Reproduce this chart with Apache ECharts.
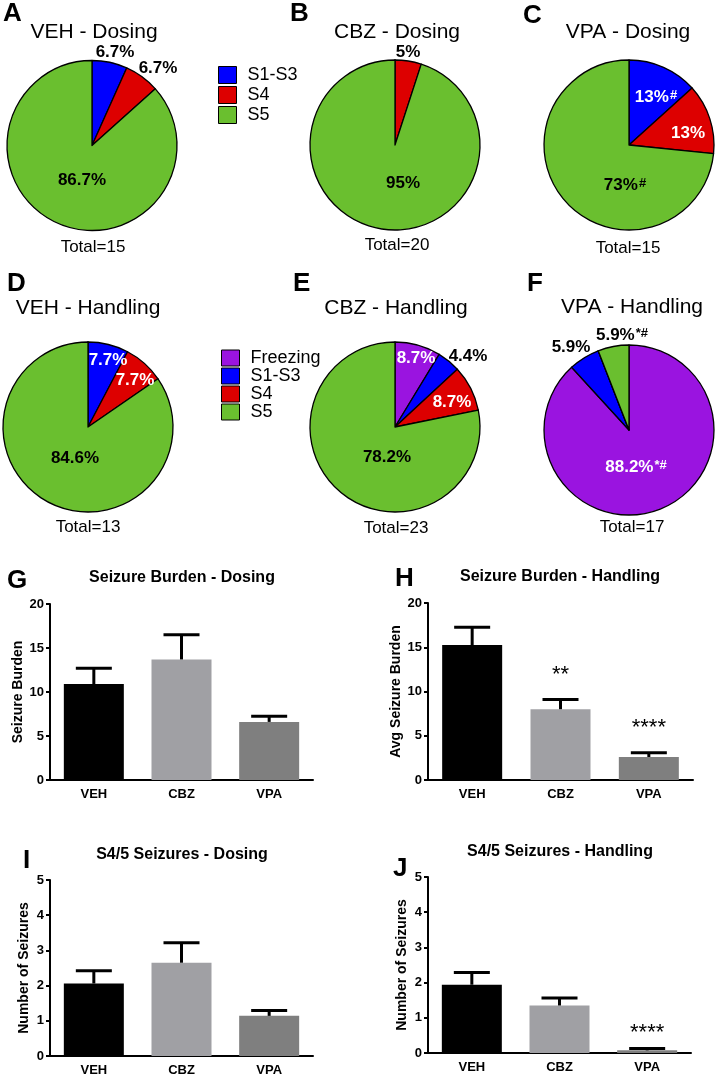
<!DOCTYPE html>
<html><head><meta charset="utf-8">
<script src="https://cdn.jsdelivr.net/npm/echarts@6/dist/echarts.min.js"></script>
<style>html,body{margin:0;padding:0;background:#fff}#c{width:717px;height:1077px}</style>
</head><body><div id="c"></div>
<script>
const FONT = "'Liberation Sans', Arial, Helvetica, sans-serif";

// ---------------- DATA ----------------
const dosingCategories = ['S1-S3', 'S4', 'S5'];
const handlingCategories = ['Freezing', 'S1-S3', 'S4', 'S5'];

const vehDosingPct = [6.7, 6.7, 86.7];
const cbzDosingPct = [0, 5, 95];
const vpaDosingPct = [13.3, 13.3, 73.3];
const vehHandlingPct = [0, 7.7, 7.7, 84.6];
const cbzHandlingPct = [8.7, 4.4, 8.7, 78.2];
const vpaHandlingPct = [88.2, 5.9, 0, 5.9];

const vehDosingLabels = ['6.7%', '6.7%', '86.7%'];
const cbzDosingLabels = ['', '5%', '95%'];
const vpaDosingLabels = ['13%', '13%', '73%'];
const vehHandlingLabels = ['', '7.7%', '7.7%', '84.6%'];
const cbzHandlingLabels = ['8.7%', '4.4%', '8.7%', '78.2%'];
const vpaHandlingLabels = ['88.2%', '5.9%', '', '5.9%'];

const vehDosingSup = ['', '', ''];
const cbzDosingSup = ['', '', ''];
const vpaDosingSup = ['#', '', '#'];
const vehHandlingSup = ['', '', '', ''];
const cbzHandlingSup = ['', '', '', ''];
const vpaHandlingSup = ['*#', '', '', '*#'];

const pieTitles = ['VEH - Dosing', 'CBZ - Dosing', 'VPA - Dosing', 'VEH - Handling', 'CBZ - Handling', 'VPA - Handling'];
const pieTotals = [15, 20, 15, 13, 23, 17];
const panelLetters = ['A', 'B', 'C', 'D', 'E', 'F', 'G', 'H', 'I', 'J'];

const groups = ['VEH', 'CBZ', 'VPA'];
const burdenDosingMean = [10.9, 13.7, 6.6];
const burdenDosingSem = [1.8, 2.8, 0.65];
const burdenHandlingMean = [15.25, 8.0, 2.6];
const burdenHandlingSem = [2.0, 1.1, 0.48];
const s45DosingMean = [2.06, 2.65, 1.14];
const s45DosingSem = [0.36, 0.57, 0.15];
const s45HandlingMean = [1.94, 1.35, 0.075];
const s45HandlingSem = [0.35, 0.21, 0.055];
const burdenHandlingStars = ['', '**', '****'];
const s45HandlingStars = ['', '', '****'];
const noStars = ['', '', ''];

const barTitles = ['Seizure Burden - Dosing', 'Seizure Burden - Handling', 'S4/5 Seizures - Dosing', 'S4/5 Seizures - Handling'];
const barYNames = ['Seizure Burden', 'Avg Seizure Burden', 'Number of Seizures', 'Number of Seizures'];
const burdenTicks = { min: 0, max: 20, interval: 5 };
const countTicks = { min: 0, max: 5, interval: 1 };

// ---------------- STYLE ----------------
const sliceColors = { 'Freezing': '#9a14e0', 'S1-S3': '#0000ff', 'S4': '#dd0000', 'S5': '#6abf2f' };
const groupColors = ['#000000', '#a0a0a4', '#7f7f7f'];
const pieCenters = [[92, 145.5], [395, 145], [629, 145], [88, 427], [395, 427], [629, 430]];
const pieR = 85;
const W = '#ffffff', B = '#000000';
const pieLabelColors = [
  [B, B, B], [B, B, B], [W, W, B],
  [W, W, W, B], [W, B, W, B], [W, B, B, B]
];
// label center offsets relative to pie centre (px)
const pieLabelOffsets = [
  [[23, -93], [66, -77], [-10, 35]],
  [[0, 0], [13, -93], [8, 38]],
  [[27, -48], [59, -12], [-4, 40]],
  [[0, 0], [20, -67], [47, -47], [-13, 31]],
  [[21, -69], [73, -71], [57, -25], [-8, 30]],
  [[7, 37], [-58, -83], [0, 0], [-7, -95]]
];
const titleCenters = [[94, 32], [397, 32], [628, 32], [88, 308], [396, 308], [632, 307]];
const totalCenters = [[93, 247], [397, 245], [628, 248], [88, 527], [396, 528], [632, 527]];
const letterPos = [[3, 1], [290, 1], [523, 3], [7, 271], [293, 271], [527, 271], [7, 568], [395, 566], [23, 848], [393, 856]];
const barGrids = [
  { left: 50, top: 604, width: 263, height: 176 },
  { left: 428, top: 603, width: 265, height: 177 },
  { left: 50, top: 880, width: 263, height: 176 },
  { left: 428, top: 877, width: 263, height: 176 }
];
const barTitleCenters = [[182, 578], [560, 577], [182, 855], [560, 852]];

// ---------------- BUILD ----------------
const pieDefs = [
  [dosingCategories, vehDosingPct, vehDosingLabels, vehDosingSup],
  [dosingCategories, cbzDosingPct, cbzDosingLabels, cbzDosingSup],
  [dosingCategories, vpaDosingPct, vpaDosingLabels, vpaDosingSup],
  [handlingCategories, vehHandlingPct, vehHandlingLabels, vehHandlingSup],
  [handlingCategories, cbzHandlingPct, cbzHandlingLabels, cbzHandlingSup],
  [handlingCategories, vpaHandlingPct, vpaHandlingLabels, vpaHandlingSup]
];

const titles = [];
function addText(text, x, y, size, weight, align) {
  titles.push({
    text: text, left: x, top: y, textAlign: align || 'center', padding: 0,
    textStyle: { fontSize: size, fontWeight: weight, color: '#000', fontFamily: FONT }
  });
}
pieTitles.forEach((t, i) => addText(t, titleCenters[i][0], titleCenters[i][1] - 10.5, 21, 'normal'));
pieTotals.forEach((t, i) => addText('Total=' + t, totalCenters[i][0], totalCenters[i][1] - 8.5, 17, 'normal'));
panelLetters.forEach((l, i) => addText(l, letterPos[i][0], letterPos[i][1], 26, 'bold', 'left'));
barTitles.forEach((t, i) => addText(t, barTitleCenters[i][0], barTitleCenters[i][1] - 8, 16, 'bold'));

const series = [];
pieDefs.forEach((d, pi) => {
  const [cats, vals, labels, sups] = d;
  const cx = pieCenters[pi][0], cy = pieCenters[pi][1];
  series.push({
    type: 'pie', center: [cx, cy], radius: pieR, startAngle: 90, clockwise: true,
    animation: false, silent: true, avoidLabelOverlap: false,
    emphasis: { disabled: true },
    itemStyle: { borderColor: '#000', borderWidth: 1.3 },
    labelLine: { show: false },
    label: {
      show: true, position: 'inside', fontFamily: FONT, fontSize: 17, fontWeight: 'bold',
      rich: {
        sw: { fontSize: 13, fontWeight: 'bold', color: '#fff', fontFamily: FONT, verticalAlign: 'top', padding: [0, 0, 0, 1] },
        sb: { fontSize: 13, fontWeight: 'bold', color: '#000', fontFamily: FONT, verticalAlign: 'top', padding: [0, 0, 0, 1] }
      }
    },
    labelLayout: function (p) {
      const o = pieLabelOffsets[pi][p.dataIndex];
      return { x: cx + o[0], y: cy + o[1], align: 'center', verticalAlign: 'middle' };
    },
    data: cats.map((c, i) => {
      const col = pieLabelColors[pi][i];
      return {
        name: c, value: vals[i],
        itemStyle: { color: sliceColors[c] },
        label: {
          color: col,
          formatter: function () {
            if (!labels[i]) return '';
            return sups[i] ? labels[i] + '{' + (col === W ? 'sw' : 'sb') + '|' + sups[i] + '}' : labels[i];
          }
        }
      };
    })
  });
});

const barDefs = [
  [burdenDosingMean, burdenDosingSem, noStars, burdenTicks, 0],
  [burdenHandlingMean, burdenHandlingSem, burdenHandlingStars, burdenTicks, 25],
  [s45DosingMean, s45DosingSem, noStars, countTicks, 0],
  [s45HandlingMean, s45HandlingSem, s45HandlingStars, countTicks, 15]
];
const grids = [], xAxes = [], yAxes = [];
barDefs.forEach((d, gi) => {
  const [means, sems, stars, ticks, starGap] = d;
  grids.push(Object.assign({}, barGrids[gi], { containLabel: false }));
  xAxes.push({
    type: 'category', gridIndex: gi, data: groups, boundaryGap: true,
    axisLine: { lineStyle: { color: '#000', width: 2 } },
    axisTick: { show: false },
    axisLabel: { color: '#000', fontWeight: 'bold', fontSize: 13, fontFamily: FONT, margin: 8 }
  });
  yAxes.push({
    type: 'value', gridIndex: gi, min: ticks.min, max: ticks.max, interval: ticks.interval,
    name: barYNames[gi], nameLocation: 'middle', nameGap: 19,
    nameTextStyle: { color: '#000', fontWeight: 'bold', fontSize: 14, fontFamily: FONT },
    axisLine: { show: true, lineStyle: { color: '#000', width: 2 } },
    axisTick: { show: true, length: 4, lineStyle: { color: '#000', width: 2 } },
    splitLine: { show: false },
    axisLabel: { color: '#000', fontWeight: 'bold', fontSize: 13, fontFamily: FONT, margin: 6 }
  });
  series.push({
    type: 'bar', xAxisIndex: gi, yAxisIndex: gi, barWidth: 60, animation: false, silent: true,
    data: means.map((m, i) => ({ value: m, itemStyle: { color: groupColors[i] } }))
  });
  series.push({
    type: 'custom', xAxisIndex: gi, yAxisIndex: gi, animation: false, silent: true, z: 5,
    encode: { x: 0, y: 1 },
    data: means.map((m, i) => [i, m, sems[i]]),
    renderItem: function (params, api) {
      const x = api.value(0), m = api.value(1), e = api.value(2);
      const p0 = api.coord([x, m]);
      const p1 = api.coord([x, m + e]);
      const half = 18;
      const ch = [
        { type: 'line', shape: { x1: p0[0], y1: p0[1], x2: p1[0], y2: p1[1] }, style: { stroke: '#000', lineWidth: 3 } },
        { type: 'line', shape: { x1: p1[0] - half, y1: p1[1], x2: p1[0] + half, y2: p1[1] }, style: { stroke: '#000', lineWidth: 3 } }
      ];
      const s = stars[params.dataIndex];
      if (s) ch.push({ type: 'text', x: p1[0], y: p1[1] - starGap, style: { text: s, fontSize: 22, fontFamily: FONT, fill: '#000', align: 'center', verticalAlign: 'middle' } });
      return { type: 'group', children: ch };
    }
  });
});

const legendCommon = {
  orient: 'vertical', icon: 'rect', selectedMode: false, itemWidth: 18,
  itemStyle: { borderColor: '#000', borderWidth: 1 },
  textStyle: { fontSize: 18, color: '#000', fontFamily: FONT, padding: [0, 0, 0, 6] }
};
const legends = [
  Object.assign({}, legendCommon, { left: 213, top: 61, itemHeight: 17, itemGap: 2, data: dosingCategories,
    textStyle: Object.assign({}, legendCommon.textStyle, { lineHeight: 18 }) }),
  Object.assign({}, legendCommon, { left: 216, top: 344, itemHeight: 16, itemGap: 0, data: handlingCategories,
    textStyle: Object.assign({}, legendCommon.textStyle, { lineHeight: 17.5 }) })
];

const chart = echarts.init(document.getElementById('c'), null, { renderer: 'canvas' });
chart.setOption({
  backgroundColor: '#fff',
  animation: false,
  title: titles,
  legend: legends,
  grid: grids,
  xAxis: xAxes,
  yAxis: yAxes,
  series: series
});
</script>
</body></html>
